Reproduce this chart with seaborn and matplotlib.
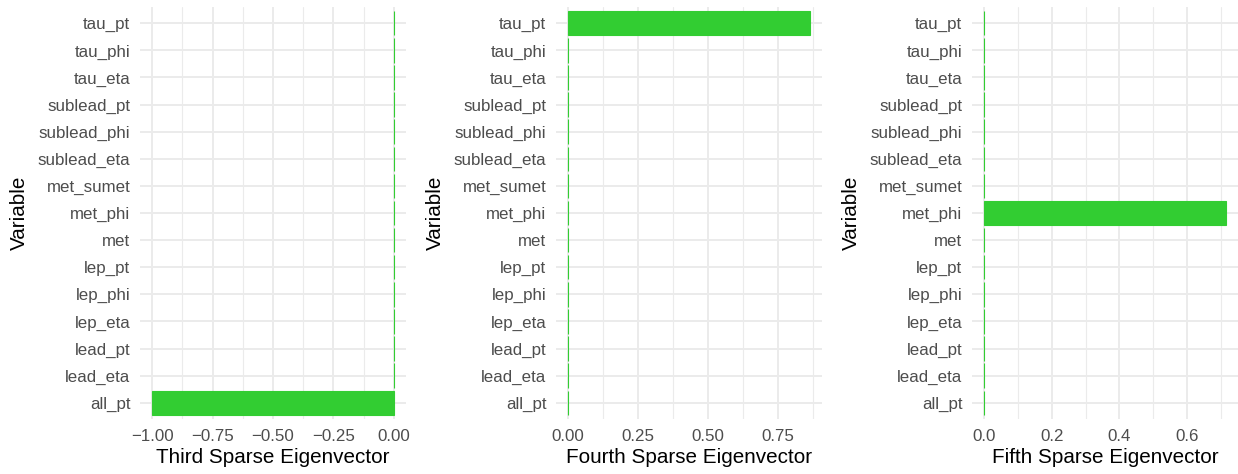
import matplotlib
matplotlib.use("Agg")
import matplotlib.pyplot as plt
import numpy as np
import pandas as pd
import seaborn as sns

# Variables, listed top to bottom as drawn
variables = ["tau_pt", "tau_phi", "tau_eta", "sublead_pt", "sublead_phi",
             "sublead_eta", "met_sumet", "met_phi", "met", "lep_pt",
             "lep_phi", "lep_eta", "lead_pt", "lead_eta", "all_pt"]

# Loadings of each sparse eigenvector (same order as variables)
third_vec = [0, 0, 0, 0, 0, 0, 0, 0, 0, 0, 0, 0, 0, 0, -1.0]
fourth_vec = [0.864, 0, 0, 0, 0, 0, 0, 0, 0, 0, 0, 0, 0, 0, 0]
fifth_vec = [0, 0, 0, 0, 0, 0, 0, 0.715, 0, 0, 0, 0, 0, 0, 0]

titles = ["Third Sparse Eigenvector", "Fourth Sparse Eigenvector", "Fifth Sparse Eigenvector"]
major_ticks = [[-1.0, -0.75, -0.5, -0.25, 0.0], [0.0, 0.25, 0.5, 0.75], [0.0, 0.2, 0.4, 0.6]]
tick_labels = [["\u22121.00", "\u22120.75", "\u22120.50", "\u22120.25", "0.00"],
               ["0.00", "0.25", "0.50", "0.75"],
               ["0.0", "0.2", "0.4", "0.6"]]
minor_ticks = [[-0.875, -0.625, -0.375, -0.125], [0.125, 0.375, 0.625, 0.875],
               [0.1, 0.3, 0.5, 0.7]]

sns.set_theme(style="white")
plt.rcParams["font.family"] = ["Liberation Sans", "DejaVu Sans"]

BAR = "#32CD32"
GRID = "#EBEBEB"

fig = plt.figure(figsize=(12.38, 4.74), dpi=100)
W, H = 1238, 474
lefts = [140, 556, 972]
pw = 266
bottom_px, top_px = 419, 7

for i, vals in enumerate([third_vec, fourth_vec, fifth_vec]):
    ax = fig.add_axes([lefts[i] / W, 1 - bottom_px / H, pw / W, (bottom_px - top_px) / H])
    df = pd.DataFrame({"Variable": variables, "Loading": vals})
    sns.barplot(data=df, x="Loading", y="Variable", order=variables, color=BAR,
                saturation=1, width=0.9, edgecolor=BAR, linewidth=0.8, ax=ax, zorder=3)
    lo, hi = min(0, min(vals)), max(0, max(vals))
    pad = 0.05 * (hi - lo)
    ax.set_xlim(lo - pad, hi + pad)
    ax.set_ylim(len(variables) - 0.4, -0.6)
    ax.set_xticks(major_ticks[i])
    ax.set_xticklabels(tick_labels[i])
    ax.set_xticks(minor_ticks[i], minor=True)
    ax.grid(True, which="major", axis="both", color=GRID, linewidth=1.4, zorder=0)
    ax.grid(True, which="minor", axis="x", color=GRID, linewidth=0.8, zorder=0)
    ax.set_axisbelow(True)
    for s in ax.spines.values():
        s.set_visible(False)
    ax.tick_params(axis="both", which="both", length=0, labelsize=12.2,
                   labelcolor="#4D4D4D")
    ax.tick_params(axis="y", pad=7)
    ax.tick_params(axis="x", pad=7)
    ax.set_xlabel(titles[i], fontsize=14.9, color="black", labelpad=3)
    ax.set_ylabel("Variable", fontsize=14.9, color="black", labelpad=6)

fig.savefig("out.png", dpi=100, facecolor="white")
